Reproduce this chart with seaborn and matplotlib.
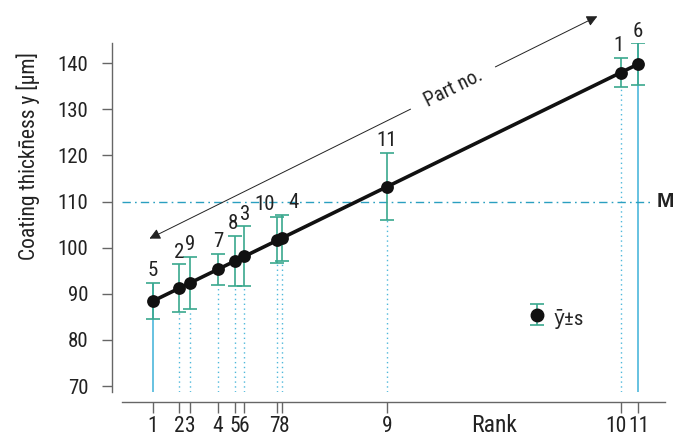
import numpy as np
import matplotlib
matplotlib.use("Agg")
import matplotlib.pyplot as plt
import matplotlib.transforms as mtransforms
import seaborn as sns

# data
rank = [1, 2, 3, 4, 5, 6, 7, 8, 9, 10, 11]
part_no = ["5", "2", "9", "7", "8", "3", "10", "4", "11", "1", "6"]
mean_y = [88.4, 91.2, 92.4, 95.3, 97.1, 98.1, 101.6, 102.1, 113.2, 138.0, 139.8]
std_s = [3.9, 5.2, 5.6, 3.4, 5.5, 6.5, 5.0, 5.0, 7.3, 3.1, 4.5]
y_ticks = [70, 80, 90, 100, 110, 120, 130, 140]
target_m = 110

# small sideways nudges (points) so that close labels don't collide
label_dx = [0, 0, 0, 0, -1.5, 0.5, -9, 8.5, 0, -1.5, 0]
tick_dx = [0, 0, 0, 0, 0, 0, -1.8, 1.8, 0, -3.5, 0.5]

# x position of each rank = its mean value (points sit on the straight line)
x_pos = np.array(mean_y)
mean_arr = np.array(mean_y)
std_arr = np.array(std_s)

sns.set_style("ticks")
plt.rcParams["font.family"] = ["Roboto Condensed", "DejaVu Sans"]
plt.rcParams["font.stretch"] = "condensed"

teal = "#3aa88e"
light_blue = "#4db8db"
m_blue = "#2a9fc0"
grey = "#666666"
txt = "#222222"

fig = plt.figure(figsize=(6.81, 4.37), dpi=100)
ax = fig.add_axes([122 / 681, 45 / 437, 543 / 681, 349 / 437])

ax.set_xlim(85.15, 142.67)
ax.set_ylim(68.7, 144.4)
y_bottom = 68.7

# vertical lines from each point down to the axis
ax.vlines(x_pos[1:-1], y_bottom, (mean_arr - std_arr)[1:-1], colors=light_blue,
          linestyles=(0, (1, 2.5)), linewidth=1.0, zorder=1)
ax.vlines([x_pos[0], x_pos[-1]], y_bottom, [mean_arr[0] + std_arr[0], mean_arr[-1] + std_arr[-1]],
          colors=light_blue, linewidth=1.2, zorder=1)

# M line
ax.axhline(target_m, xmin=0, xmax=0.976, color=m_blue, linewidth=1.0,
           linestyle=(0, (6, 3, 1.2, 3)), zorder=1)
ax.text(1.0, target_m, "M", transform=ax.get_yaxis_transform(), ha="center", va="center",
        fontsize=15, fontweight="bold", color=txt, family=["Liberation Sans", "DejaVu Sans"])

# error bars
ax.errorbar(x_pos, mean_arr, yerr=std_arr, fmt="none", ecolor=teal, elinewidth=1.2,
            capsize=4.7, capthick=1.2, zorder=2)

# thick line and points
sns.lineplot(x=x_pos, y=mean_arr, ax=ax, color="#111111", linewidth=2.6, zorder=3)
sns.scatterplot(x=x_pos, y=mean_arr, ax=ax, color="#111111", s=85, edgecolor="#111111",
                linewidth=0, zorder=4)

# part numbers above the error bars
for xp, m, s, lab, dx in zip(x_pos, mean_arr, std_arr, part_no, label_dx):
    ax.annotate(lab, (xp, m + s), xytext=(dx, 2), textcoords="offset points",
                ha="center", va="bottom", fontsize=15, color=txt)

# "Part no." arrow
ax.annotate("", xy=(0.046, 0.436), xytext=(0.536, 0.814), xycoords="axes fraction",
            arrowprops=dict(arrowstyle="-|>", color=txt, lw=0.7, mutation_scale=16))
ax.annotate("", xy=(0.880, 1.080), xytext=(0.683, 0.928), xycoords="axes fraction",
            arrowprops=dict(arrowstyle="-|>", color=txt, lw=0.7, mutation_scale=16),
            annotation_clip=False)
ax.text(0.610, 0.871, "Part no.", transform=ax.transAxes, rotation=26.4,
        rotation_mode="anchor", ha="center", va="center", fontsize=14.5, color=txt)

# legend
ax.errorbar([np.nan], [np.nan], yerr=[1], fmt="o", color="#111111", markersize=9,
            ecolor=teal, elinewidth=1.2, capsize=4.7, capthick=1.2, label="ȳ±s")
ax.legend(loc="center left", bbox_to_anchor=(0.745, 0.212), frameon=False, fontsize=15,
          handlelength=1.0, handleheight=1.6, handletextpad=0.3, borderpad=0, borderaxespad=0)

# axes
ax.set_xticks(x_pos)
ax.set_xticklabels([str(r) for r in rank])
ax.set_yticks(y_ticks)
ax.tick_params(axis="y", length=7, width=1, color=grey, pad=10, labelsize=15, labelcolor=txt)
ax.tick_params(axis="x", length=8, width=1, color=grey, pad=2, labelsize=15.5, labelcolor=txt)
sns.despine(ax=ax, offset=7.2)
for sp in ["left", "bottom"]:
    ax.spines[sp].set_color(grey)
    ax.spines[sp].set_linewidth(1.0)

for lab, dx in zip(ax.get_xticklabels(), tick_dx):
    lab.set_transform(lab.get_transform() + mtransforms.ScaledTranslation(dx / 72, 0, fig.dpi_scale_trans))

ax.set_ylabel("Coating thickn\u0304ess y [μm]", fontsize=15.5, color=txt)
ax.yaxis.set_label_coords(-0.151, 0.675)
ax.set_xlabel("Rank", fontsize=17, color=txt)
ax.xaxis.set_label_coords(0.685, -0.063)

fig.savefig("out.png", dpi=100)
